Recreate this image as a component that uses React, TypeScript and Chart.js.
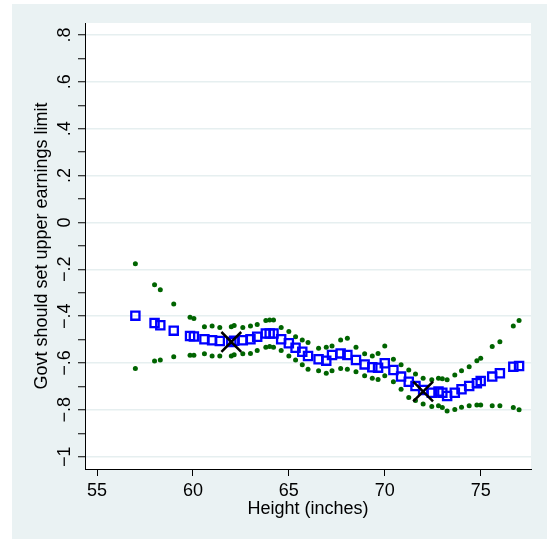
import React, { useEffect, useRef } from "react";
import { Chart, registerables } from "chart.js";

Chart.register(...registerables);

// ---- Data ----
const heights = [
  57.0, 58.0, 58.3, 59.0, 59.85, 60.05, 60.6, 61.0, 61.4, 62.0, 62.15, 62.6, 63.0, 63.35,
  63.8, 64.0, 64.2, 64.6, 65.0, 65.35, 65.7, 66.0, 66.55, 66.95, 67.25, 67.7, 68.05, 68.5,
  68.95, 69.35, 69.65, 70.0, 70.45, 70.85, 71.25, 71.6, 72.0, 72.45, 72.8, 73.0, 73.25,
  73.65, 74.0, 74.4, 74.8, 75.0, 75.6, 76.0, 76.7, 77.0,
];
const fitted = [
  -0.398, -0.429, -0.439, -0.462, -0.485, -0.487, -0.499, -0.503, -0.506, -0.51, -0.505, -0.503, -0.499, -0.488,
  -0.474, -0.474, -0.474, -0.499, -0.516, -0.535, -0.552, -0.57, -0.584, -0.59, -0.566, -0.559, -0.566, -0.587,
  -0.606, -0.618, -0.62, -0.601, -0.63, -0.658, -0.68, -0.698, -0.715, -0.727, -0.722, -0.727, -0.741,
  -0.727, -0.712, -0.698, -0.686, -0.677, -0.658, -0.644, -0.616, -0.613,
];
const upperCI = [
  -0.176, -0.266, -0.287, -0.348, -0.405, -0.41, -0.445, -0.442, -0.448, -0.445, -0.44, -0.448, -0.442, -0.436,
  -0.419, -0.416, -0.416, -0.448, -0.466, -0.488, -0.502, -0.513, -0.537, -0.533, -0.527, -0.502, -0.494, -0.533,
  -0.561, -0.57, -0.559, -0.527, -0.584, -0.608, -0.63, -0.647, -0.665, -0.672, -0.665, -0.667, -0.672,
  -0.651, -0.633, -0.616, -0.59, -0.58, -0.53, -0.509, -0.442, -0.419,
];
const lowerCI = [
  -0.623, -0.591, -0.587, -0.573, -0.567, -0.567, -0.561, -0.57, -0.57, -0.57, -0.565, -0.561, -0.559, -0.547,
  -0.533, -0.53, -0.533, -0.547, -0.57, -0.587, -0.608, -0.627, -0.633, -0.644, -0.633, -0.623, -0.627, -0.637,
  -0.655, -0.665, -0.67, -0.655, -0.68, -0.712, -0.747, -0.76, -0.775, -0.786, -0.783, -0.79, -0.805,
  -0.798, -0.789, -0.782, -0.779, -0.779, -0.782, -0.782, -0.79, -0.8,
];
const markerX = [62, 72];
const markerY = [-0.51, -0.722];

const xTickValues = [55, 60, 65, 70, 75];
const xTickLabels = ["55", "60", "65", "70", "75"];
const yTickValues = [-1, -0.9, -0.8, -0.7, -0.6, -0.5, -0.4, -0.3, -0.2, -0.1, 0, 0.1, 0.2, 0.3, 0.4, 0.5, 0.6, 0.7, 0.8];
const yLabelValues = [-1, -0.8, -0.6, -0.4, -0.2, 0, 0.2, 0.4, 0.6, 0.8];
const yTickLabels = ["\u22121", "\u2212.8", "\u2212.6", "\u2212.4", "\u2212.2", "0", ".2", ".4", ".6", ".8"];
const xTitle = "Height (inches)";
const yTitle = "Govt should set upper earnings limit";

const FONT = '18px "Liberation Sans", Arial, Helvetica, sans-serif';

const isMajor = (v: number) => Math.abs(v * 5 - Math.round(v * 5)) < 1e-6;

const pts = (xs: number[], ys: number[]) => xs.map((x, i) => ({ x, y: ys[i] }));

export default function App() {
  const ref = useRef<HTMLCanvasElement | null>(null);

  useEffect(() => {
    if (!ref.current) return;
    const textPlugin = {
      id: "stataText",
      beforeDraw(chart: any) {
        const { ctx, chartArea } = chart;
        ctx.save();
        ctx.fillStyle = "#ffffff";
        ctx.fillRect(chartArea.left, chartArea.top, chartArea.right - chartArea.left, chartArea.bottom - chartArea.top);
        ctx.restore();
      },
      afterDraw(chart: any) {
        const { ctx } = chart;
        const xs = chart.scales.x;
        const ys = chart.scales.y;
        ctx.save();
        ctx.fillStyle = "#000";
        ctx.font = FONT;
        ctx.textAlign = "center";
        ctx.textBaseline = "alphabetic";
        xTickValues.forEach((v, i) => {
          ctx.fillText(xTickLabels[i], xs.getPixelForValue(v), 496);
        });
        ctx.fillText(xTitle, (chart.chartArea.left + chart.chartArea.right) / 2, 513.5);
        yLabelValues.forEach((v, i) => {
          ctx.save();
          ctx.translate(69.5, ys.getPixelForValue(v));
          ctx.rotate(-Math.PI / 2);
          ctx.fillText(yTickLabels[i], 0, 0);
          ctx.restore();
        });
        ctx.save();
        ctx.translate(46.5, (chart.chartArea.top + chart.chartArea.bottom) / 2);
        ctx.rotate(-Math.PI / 2);
        ctx.fillText(yTitle, 0, 0);
        ctx.restore();
        ctx.restore();
      },
    };

    const chart = new Chart(ref.current, {
      type: "scatter",
      data: {
        datasets: [
          {
            label: "markers",
            data: pts(markerX, markerY),
            pointStyle: "crossRot",
            pointRadius: 14,
            borderColor: "#000000",
            backgroundColor: "#000000",
            borderWidth: 2.5,
            order: 0,
          },
          {
            label: "fitted",
            data: pts(heights, fitted),
            pointStyle: "rect",
            pointRadius: 5.8,
            borderColor: "#0000ff",
            backgroundColor: "rgba(0,0,0,0)",
            borderWidth: 2.3,
            order: 1,
          },
          {
            label: "upper",
            data: pts(heights, upperCI),
            pointStyle: "circle",
            pointRadius: 2.5,
            borderWidth: 0,
            borderColor: "#006400",
            backgroundColor: "#006400",
            order: 2,
          },
          {
            label: "lower",
            data: pts(heights, lowerCI),
            pointStyle: "circle",
            pointRadius: 2.5,
            borderWidth: 0,
            borderColor: "#006400",
            backgroundColor: "#006400",
            order: 2,
          },
        ],
      },
      options: {
        animation: false,
        responsive: false,
        devicePixelRatio: 1,
        layout: { padding: { left: 0, top: 23, right: 17, bottom: 0 } },
        plugins: { legend: { display: false }, tooltip: { enabled: false } },
        scales: {
          x: {
            type: "linear",
            min: 54.3745,
            max: 77.622,
            afterBuildTicks: (s: any) => {
              s.ticks = xTickValues.map((v) => ({ value: v }));
            },
            afterFit: (s: any) => {
              s.height = 70;
            },
            ticks: { display: false },
            grid: {
              drawOnChartArea: false,
              drawTicks: true,
              tickLength: 7,
              tickColor: "#000",
              tickWidth: 1,
            },
            border: { display: true, color: "#000", width: 1 },
          },
          y: {
            type: "linear",
            min: -1.0525,
            max: 0.8512,
            afterBuildTicks: (s: any) => {
              s.ticks = yTickValues.map((v) => ({ value: v }));
            },
            afterFit: (s: any) => {
              s.width = 85;
            },
            ticks: { display: false },
            grid: {
              drawOnChartArea: true,
              drawTicks: true,
              tickLength: 7,
              tickColor: "#000",
              tickWidth: 1,
              lineWidth: 1.5,
              color: (c: any) => (c.tick && isMajor(c.tick.value) ? "#e6eff0" : "rgba(0,0,0,0)"),
            },
            border: { display: true, color: "#000", width: 1 },
          },
        },
      },
      plugins: [textPlugin],
    } as any);
    return () => chart.destroy();
  }, []);

  return (
    <div style={{ position: "absolute", left: 0, top: 0, width: 548, height: 539, background: "#ffffff" }}>
      <div style={{ position: "absolute", left: 12, top: 4, width: 535, height: 535, background: "#eaf2f3" }} />
      <canvas ref={ref} width={548} height={539} style={{ position: "absolute", left: 0, top: 0, width: 548, height: 539 }} />
    </div>
  );
}
